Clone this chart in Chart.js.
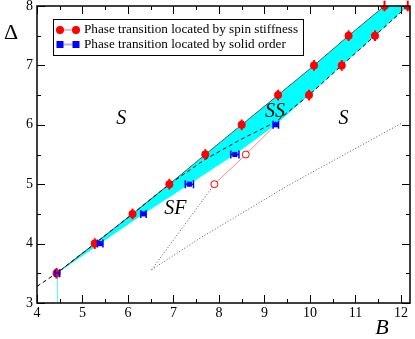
<!DOCTYPE html>
<html>
<head>
<meta charset="utf-8">
<script src="https://cdn.jsdelivr.net/npm/chart.js@4.4.1/dist/chart.umd.min.js"></script>
<style>
  html, body { margin: 0; padding: 0; background: #fff; }
  #wrap { width: 415px; height: 339px; }
</style>
</head>
<body>
<div id="wrap"><canvas id="phaseChart"></canvas></div>
<script>
const xTicks = [4, 5, 6, 7, 8, 9, 10, 11, 12];
const yTicks = [3, 4, 5, 6, 7, 8];

// phase transition from spin stiffness (two branches)
const stiffUpperB = [4.43, 5.27, 6.10, 6.91, 7.70, 8.50, 9.30, 10.09, 10.85, 11.64];
const stiffUpperD = [3.5, 4.0, 4.5, 5.0, 5.5, 6.0, 6.5, 7.0, 7.5, 8.0];
const stiffLowerB = [9.98, 10.70, 11.43, 12.15];
const stiffLowerD = [6.5, 7.0, 7.5, 8.0];
const stiffErr = [0.09, 0.09, 0.09, 0.09, 0.09, 0.09, 0.09, 0.09, 0.09, 0.09];
const stiffLowerErr = [0.09, 0.09, 0.09, 0.09];

// phase transition from solid order
const solidB = [4.45, 5.39, 6.34, 7.35, 8.35, 9.25];
const solidD = [3.5, 4.0, 4.5, 5.0, 5.5, 6.0];
const solidErr = [0.05, 0.06, 0.06, 0.09, 0.09, 0.06];

// open circles and the thin red line
const openB = [7.90, 8.59];
const openD = [5.0, 5.5];
const redLineB = [7.90, 8.59, 9.25];
const redLineD = [5.0, 5.5, 6.0];

// dotted lines
const dotAB = [6.52, 7.90];
const dotAD = [3.56, 5.0];
const dotBB = [6.52, 7.56, 9.52, 10.14, 12.0];
const dotBD = [3.56, 4.08, 4.98, 5.24, 6.02];

// dashed curve
const dashB = [4.0, 4.43, 5.27, 6.10, 6.91, 7.70, 8.50, 9.25, 9.98, 10.70, 11.43, 12.15];
const dashD = [3.28, 3.5, 4.0, 4.5, 5.0, 5.42, 5.76, 6.05, 6.5, 7.0, 7.5, 8.0];

const labelTexts = ['S', 'SS', 'S', 'SF'];
const labelB = [5.85, 9.23, 10.74, 7.04];
const labelD = [6.11, 6.22, 6.1, 4.58];

const serif = 'Liberation Serif';
Chart.defaults.font.family = serif;
const xy = (xs, ys) => xs.map((x, i) => ({ x: x, y: ys[i] }));

const bandPts = xy(stiffUpperB, stiffUpperD)
    .concat(xy(stiffLowerB, stiffLowerD).reverse())
    .concat(xy(solidB, solidD).reverse());

const extras = {
    id: 'extras',
    afterDatasetsDraw(chart) {
        const ctx = chart.ctx;
        const xs = chart.scales.x, ys = chart.scales.y;
        ctx.save();
        // vertical error bars on red points
        ctx.strokeStyle = '#ff0000';
        ctx.lineWidth = 2;
        const vbar = (bx, dy, err) => {
            bx.forEach((b, i) => {
                const px = xs.getPixelForValue(b);
                ctx.beginPath();
                ctx.moveTo(px, ys.getPixelForValue(dy[i] - err[i]));
                ctx.lineTo(px, ys.getPixelForValue(dy[i] + err[i]));
                ctx.stroke();
            });
        };
        vbar(stiffUpperB, stiffUpperD, stiffErr);
        vbar(stiffLowerB, stiffLowerD, stiffLowerErr);
        // horizontal error bars on blue squares
        ctx.strokeStyle = '#0000ff';
        ctx.lineWidth = 1.5;
        solidB.forEach((b, i) => {
            const py = ys.getPixelForValue(solidD[i]);
            const x0 = xs.getPixelForValue(b - solidErr[i]);
            const x1 = xs.getPixelForValue(b + solidErr[i]);
            ctx.beginPath();
            ctx.moveTo(x0, py); ctx.lineTo(x1, py);
            ctx.moveTo(x0, py - 4); ctx.lineTo(x0, py + 4);
            ctx.moveTo(x1, py - 4); ctx.lineTo(x1, py + 4);
            ctx.stroke();
        });
        ctx.restore();
    },
    afterDraw(chart) {
        const ctx = chart.ctx;
        const a = chart.chartArea;
        const xs = chart.scales.x, ys = chart.scales.y;
        ctx.save();
        // frame
        ctx.strokeStyle = '#000';
        ctx.lineWidth = 1.5;
        ctx.strokeRect(a.left, a.top, a.right - a.left, a.bottom - a.top);
        // inward ticks on all sides
        ctx.lineWidth = 1;
        ctx.beginPath();
        for (let v = 4; v <= 12.2; v += 0.5) {
            const px = Math.round(xs.getPixelForValue(v)) + 0.5;
            const len = Number.isInteger(v) ? 8 : 4;
            ctx.moveTo(px, a.bottom); ctx.lineTo(px, a.bottom - len);
            ctx.moveTo(px, a.top); ctx.lineTo(px, a.top + len);
        }
        for (let v = 3; v <= 8; v += 0.5) {
            const py = Math.round(ys.getPixelForValue(v)) + 0.5;
            const len = Number.isInteger(v) ? 8 : 4;
            ctx.moveTo(a.left, py); ctx.lineTo(a.left + len, py);
            ctx.moveTo(a.right, py); ctx.lineTo(a.right - len, py);
        }
        ctx.stroke();

        // region labels
        ctx.fillStyle = '#000';
        ctx.textAlign = 'center';
        ctx.textBaseline = 'middle';
        ctx.font = 'italic 20px "' + serif + '"';
        labelTexts.forEach((t, i) => {
            ctx.fillText(t, xs.getPixelForValue(labelB[i]), ys.getPixelForValue(labelD[i]));
        });

        // axis titles
        ctx.font = '22px "' + serif + '"';
        ctx.fillText('\u0394', 11, 33);
        ctx.font = 'italic 22px "' + serif + '"';
        ctx.fillText('B', 382, 328);

        // legend
        const lx = 53, ly = 19, lw = 250, lh = 36;
        ctx.fillStyle = '#fff';
        ctx.fillRect(lx, ly, lw, lh);
        ctx.strokeStyle = '#000';
        ctx.lineWidth = 1;
        ctx.strokeRect(lx + 0.5, ly + 0.5, lw, lh);
        const rows = [
            { y: 30, text: 'Phase transition located by spin stiffness', color: '#ff0000', line: 'rgba(255,0,0,0.3)', shape: 'circle' },
            { y: 44.5, text: 'Phase transition located by solid order', color: '#0000ff', line: 'rgba(0,0,255,0.3)', shape: 'square' }
        ];
        rows.forEach(r => {
            ctx.strokeStyle = r.line;
            ctx.lineWidth = 2;
            ctx.beginPath();
            ctx.moveTo(60, r.y); ctx.lineTo(76, r.y);
            ctx.stroke();
            ctx.fillStyle = r.color;
            [60, 76].forEach(cx => {
                if (r.shape === 'circle') {
                    ctx.beginPath();
                    ctx.arc(cx, r.y, 4, 0, Math.PI * 2);
                    ctx.fill();
                } else {
                    ctx.fillRect(cx - 3.5, r.y - 3.5, 7, 7);
                }
            });
            ctx.fillStyle = '#000';
            ctx.textAlign = 'left';
            ctx.font = '13.2px "' + serif + '"';
            ctx.fillText(r.text, 84, r.y);
        });
        ctx.restore();
    }
};

new Chart(document.getElementById('phaseChart'), {
    type: 'scatter',
    data: {
        datasets: [
            {
                label: 'spin stiffness',
                data: xy(stiffUpperB, stiffUpperD).concat(xy(stiffLowerB, stiffLowerD)),
                pointStyle: 'circle', pointRadius: 4,
                backgroundColor: '#ff0000', borderColor: '#ff0000', borderWidth: 0,
                order: 1,
            },
            {
                label: 'solid order',
                data: xy(solidB, solidD),
                pointStyle: 'rect', pointRadius: 3.6,
                backgroundColor: '#0000ff', borderColor: '#0000ff', borderWidth: 0,
                order: 1,
            },
            {
                label: 'open',
                data: xy(openB, openD),
                pointStyle: 'circle', pointRadius: 3.5,
                backgroundColor: '#ffffff', borderColor: '#ff0000', borderWidth: 1,
                order: 2,
            },
            {
                label: 'red line',
                data: xy(redLineB, redLineD),
                showLine: true, pointRadius: 0,
                borderColor: 'rgba(255,80,80,0.7)', borderWidth: 1,
                order: 3,
            },
            {
                label: 'dashed',
                data: xy(dashB, dashD),
                showLine: true, pointRadius: 0,
                borderColor: '#000', borderWidth: 1, borderDash: [4, 3],
                order: 4,
            },
            {
                label: 'upper edge',
                data: xy(stiffUpperB, stiffUpperD),
                showLine: true, pointRadius: 0,
                borderColor: '#555', borderWidth: 1,
                order: 5,
            },
            {
                label: 'dotted A',
                data: xy(dotAB, dotAD),
                showLine: true, pointRadius: 0,
                borderColor: '#555', borderWidth: 1, borderDash: [1, 2],
                order: 5,
            },
            {
                label: 'dotted B',
                data: xy(dotBB, dotBD),
                showLine: true, pointRadius: 0,
                borderColor: '#555', borderWidth: 1, borderDash: [1, 2],
                order: 5,
            },
            {
                label: 'stub',
                data: xy([solidB[0], solidB[0]], [solidD[0], 3]),
                showLine: true, pointRadius: 0,
                borderColor: 'rgba(0,255,255,0.35)', borderWidth: 1,
                order: 9,
            },
            {
                label: 'band',
                data: bandPts,
                showLine: true, pointRadius: 0,
                borderWidth: 0, borderColor: 'rgba(0,0,0,0)',
                backgroundColor: '#00ffff', fill: 'shape',
                order: 10,
            }
        ]
    },
    options: {
        responsive: true,
        maintainAspectRatio: false,
        animation: false,
        layout: { padding: { left: 0, right: 2, top: 6, bottom: 0 } },
        plugins: { legend: { display: false }, tooltip: { enabled: false } },
        scales: {
            x: {
                type: 'linear', min: 4, max: 12.2,
                afterBuildTicks: s => { s.ticks = xTicks.map(v => ({ value: v })); },
                afterFit: s => { s.height = 36; s.paddingLeft = 0; s.paddingRight = 0; },
                grid: { display: false, drawTicks: false },
                border: { display: false },
                ticks: { color: '#000', font: { family: serif, size: 14 }, padding: 2, maxRotation: 0, autoSkip: false }
            },
            y: {
                type: 'linear', min: 3, max: 8,
                afterBuildTicks: s => { s.ticks = yTicks.map(v => ({ value: v })); },
                afterFit: s => { s.width = 37; s.paddingTop = 0; s.paddingBottom = 0; },
                grid: { display: false, drawTicks: false },
                border: { display: false },
                ticks: { color: '#000', font: { family: serif, size: 14 }, padding: 4, autoSkip: false }
            }
        }
    },
    plugins: [extras]
});
</script>
</body>
</html>
